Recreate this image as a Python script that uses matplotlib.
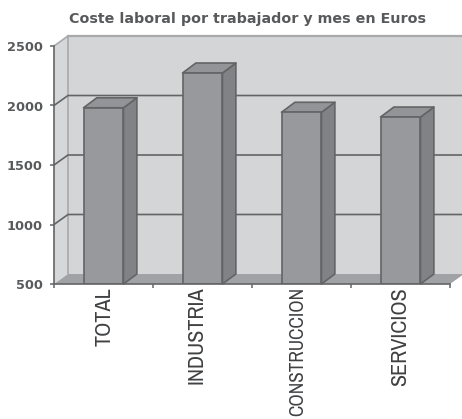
import matplotlib
matplotlib.use('Agg')
import matplotlib.pyplot as plt
from matplotlib.patches import Polygon

categories = ['TOTAL', 'INDUSTRIA', 'CONSTRUCCION', 'SERVICIOS']
values = [1981, 2273, 1943, 1903]
y_ticks = [500, 1000, 1500, 2000, 2500]
title = 'Coste laboral por trabajador y mes en Euros'

# depth of the fake 3d box, in data units
DX = 0.1414
DY = 84
BAR_W = 0.404
BAR_DX = 0.135

TEXT = '#58595b'
EDGE = '#636466'
LIGHT = '#a7a9ac'

# small nudges, the labels are not quite under the bars in the original
label_shift = [1, -6, -4, 0]
# the long one has to stay inside the picture
label_size = [16, 16, 13.9, 16]


def poly(ax, pts, color, edge='none', lw=1.0, z=1):
    ax.add_patch(Polygon(pts, closed=True, facecolor=color, edgecolor=edge,
                         linewidth=lw, clip_on=False, zorder=z, joinstyle='round'))


fig = plt.figure(figsize=(4.62, 4.19), dpi=100)
ax = fig.add_axes([54 / 462, (419 - 284) / 419, 396 / 462, 238 / 419])
ax.set_xlim(0, 4)
ax.set_ylim(500, 2500)
ax.patch.set_visible(False)

ymin, ymax = 500, 2500

# walls and floor
poly(ax, [(DX, ymin + DY), (4 + DX, ymin + DY), (4 + DX, ymax + DY), (DX, ymax + DY)], '#d4d5d7')
poly(ax, [(0, ymin), (DX, ymin + DY), (DX, ymax + DY), (0, ymax)], '#d6d7d9')
poly(ax, [(0, ymin), (4, ymin), (4 + DX, ymin + DY), (DX, ymin + DY)], '#a0a2a5')

ax.plot([DX, DX], [ymin + DY, ymax + DY], color=LIGHT, lw=1.2, clip_on=False, zorder=2)
ax.plot([DX, 4 + DX], [ymax + DY, ymax + DY], color=LIGHT, lw=1.6, clip_on=False, zorder=2)
ax.plot([0, DX], [ymax, ymax + DY], color=LIGHT, lw=1.2, clip_on=False, zorder=2)

# grid lines run back along the side wall then across the back wall
for t in y_ticks[1:-1]:
    ax.plot([0, DX, 4 + DX], [t, t + DY, t + DY], color=EDGE, lw=1.2, clip_on=False, zorder=2)

# bars
xs = [i + 0.5 for i in range(len(categories))]
ax.bar(xs, [v - ymin for v in values], width=BAR_W, bottom=ymin, color='#97999c',
       edgecolor=EDGE, linewidth=1.2, zorder=5)
for x, v in zip(xs, values):
    l, r = x - BAR_W / 2, x + BAR_W / 2
    poly(ax, [(r, ymin), (r + BAR_DX, ymin + DY), (r + BAR_DX, v + DY), (r, v)],
         '#808285', EDGE, 1.2, 4)
    poly(ax, [(l, v), (r, v), (r + BAR_DX, v + DY), (l + BAR_DX, v + DY)],
         '#929497', EDGE, 1.2, 4)

# axes
for s in ['top', 'right']:
    ax.spines[s].set_visible(False)
for s in ['left', 'bottom']:
    ax.spines[s].set_color(EDGE)
    ax.spines[s].set_linewidth(1.2)
    ax.spines[s].set_zorder(6)

ax.set_yticks(y_ticks)
ax.set_yticklabels([str(t) for t in y_ticks], fontsize=9.3, fontweight='bold', color=TEXT)
ax.tick_params(axis='y', length=3, width=1.1, color=EDGE, pad=5)
ax.set_xticks(range(5))
ax.set_xticklabels([])
ax.tick_params(axis='x', length=3, width=1.1, color=EDGE)

for x, name, sh, size in zip(xs, categories, label_shift, label_size):
    ax.annotate(name, xy=(x, 0), xycoords=ax.get_xaxis_transform(),
                xytext=(sh * 0.72, -2), textcoords='offset points',
                rotation=90, ha='center', va='top', fontsize=size, color='#3f4042',
                family=['Archivo Narrow', 'Liberation Sans'],
                annotation_clip=False)

fig.text(247 / 462, 1 - 19 / 419, title, ha='center', va='center', fontsize=10.25,
         fontweight='bold', color=TEXT)

fig.savefig('out.png', dpi=100)
